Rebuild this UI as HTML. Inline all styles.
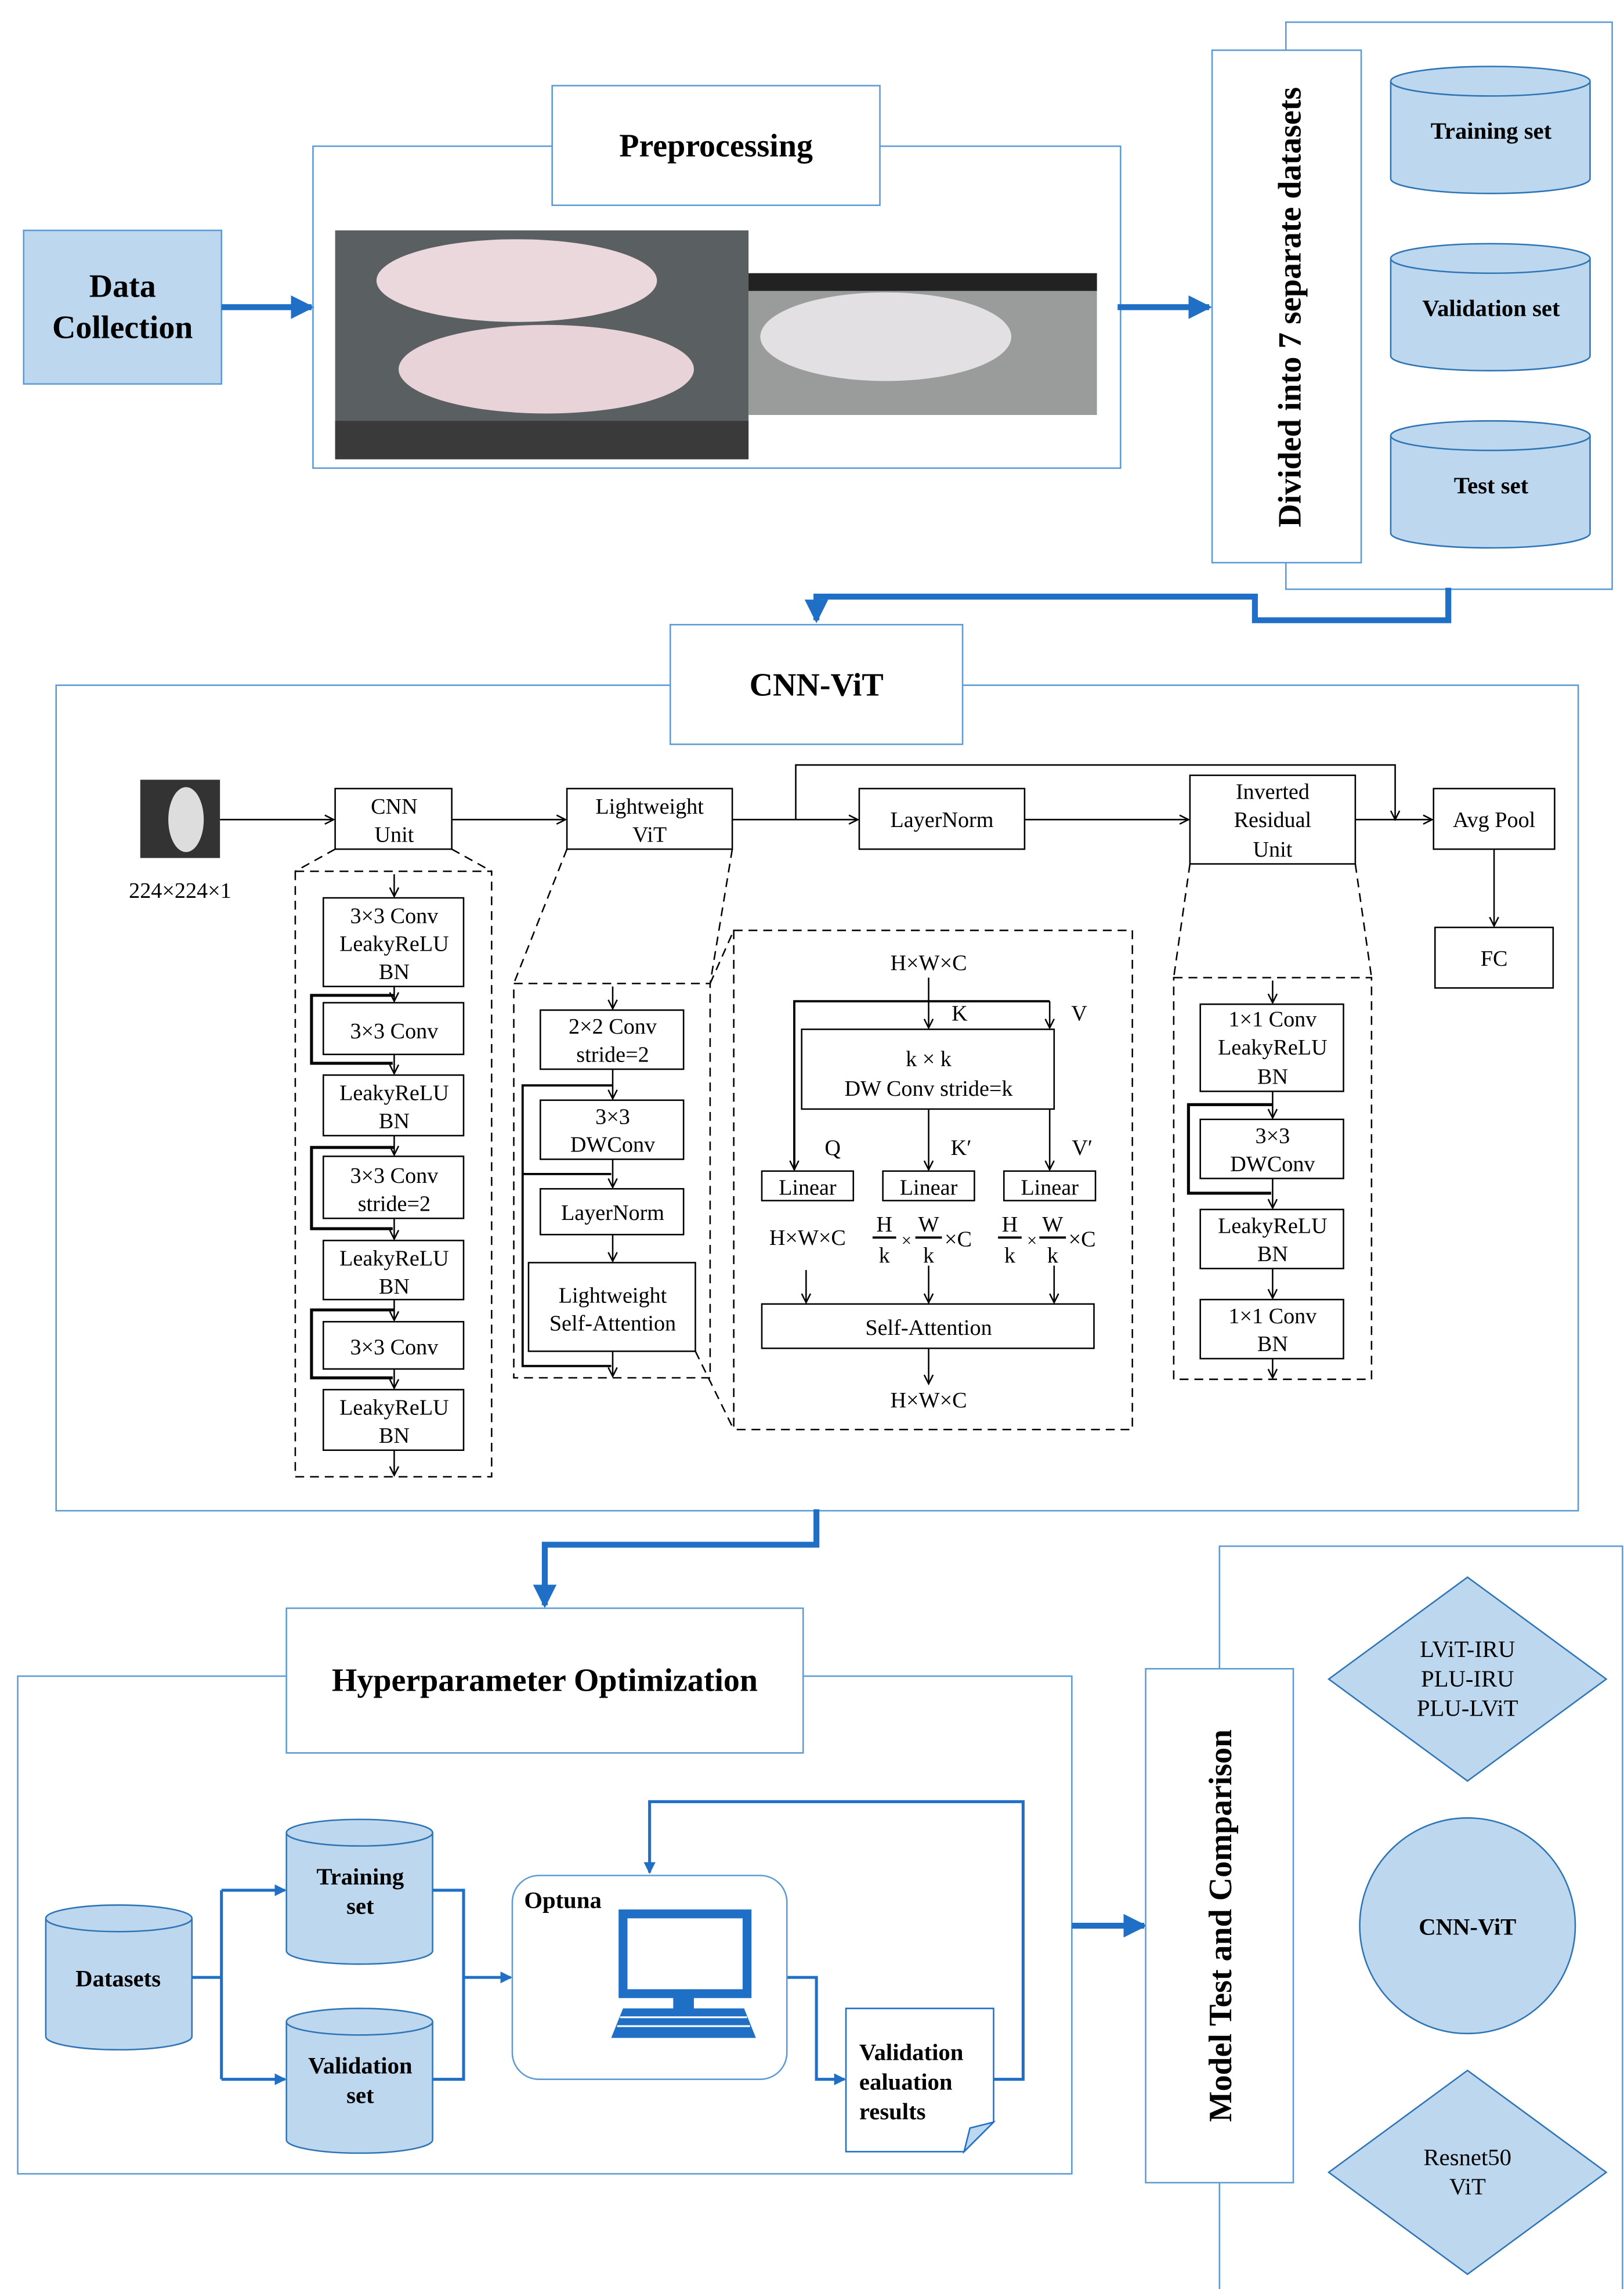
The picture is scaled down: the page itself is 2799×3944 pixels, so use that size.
<!DOCTYPE html>
<html><head><meta charset="utf-8"><style>
html,body{margin:0;padding:0;background:#fff;}
svg{display:block;}
text{font-family:"Liberation Serif",serif;}
</style></head><body>
<svg width="2799" height="3944" viewBox="0 0 1100 1550" xmlns="http://www.w3.org/2000/svg">
<defs>
<marker id="ab" markerWidth="8" markerHeight="8" refX="7" refY="4" orient="auto" markerUnits="userSpaceOnUse"><path d="M0,0 L8,4 L0,8 Z" fill="#1f6fc6"/></marker>
<marker id="ak" markerWidth="8" markerHeight="8" refX="7" refY="4" orient="auto" markerUnits="userSpaceOnUse"><path d="M1,1 L7,4 L1,7" fill="none" stroke="#000" stroke-width="1"/></marker>
<marker id="abb" markerWidth="16" markerHeight="16" refX="14" refY="8" orient="auto" markerUnits="userSpaceOnUse"><path d="M0,0 L16,8 L0,16 Z" fill="#1f6fc6"/></marker>
</defs>
<rect width="1100" height="1550" fill="#fff"/>

<!-- Data collection -->
<rect x="16" y="156" width="134" height="104" fill="#bdd7ee" stroke="#5b9bd5"/>
<text x="83" y="201" font-size="22" font-weight="bold" text-anchor="middle">Data</text>
<text x="83" y="229" font-size="22" font-weight="bold" text-anchor="middle">Collection</text>
<line x1="150" y1="208" x2="211" y2="208" stroke="#1f6fc6" stroke-width="4" marker-end="url(#abb)"/>

<!-- Preprocessing -->
<rect x="212" y="99" width="547" height="218" fill="none" stroke="#5b9bd5"/>
<rect x="374" y="58" width="222" height="81" fill="#fff" stroke="#5b9bd5"/>
<text x="485" y="106" font-size="22" font-weight="bold" text-anchor="middle">Preprocessing</text>
<rect x="227" y="156" width="280" height="155" fill="#5a5f62"/>
<ellipse cx="350" cy="190" rx="95" ry="28" fill="#ead8dc"/>
<ellipse cx="370" cy="250" rx="100" ry="30" fill="#e8d4d8"/>
<rect x="227" y="285" width="280" height="26" fill="#3a3a3a"/>
<rect x="507" y="185" width="236" height="96" fill="#9a9c9c"/>
<ellipse cx="600" cy="228" rx="85" ry="30" fill="#e2e0e2"/>
<rect x="507" y="185" width="236" height="12" fill="#222"/>

<line x1="757" y1="208" x2="819" y2="208" stroke="#1f6fc6" stroke-width="4" marker-end="url(#abb)"/>

<!-- datasets frame -->
<rect x="871" y="15" width="221" height="384" fill="none" stroke="#5b9bd5"/>
<rect x="821" y="34" width="101" height="347" fill="#fff" stroke="#5b9bd5"/>
<text transform="translate(881,208) rotate(-90)" font-size="22" font-weight="bold" text-anchor="middle">Divided into 7 separate datasets</text>
<g fill="#bdd7ee" stroke="#2e75b6">
<path d="M942,55 v66 a67.5,10 0 0 0 135,0 v-66"/><ellipse cx="1009.5" cy="55" rx="67.5" ry="10"/>
<path d="M942,175 v66 a67.5,10 0 0 0 135,0 v-66"/><ellipse cx="1009.5" cy="175" rx="67.5" ry="10"/>
<path d="M942,295 v66 a67.5,10 0 0 0 135,0 v-66"/><ellipse cx="1009.5" cy="295" rx="67.5" ry="10"/>
</g>
<g font-size="16" font-weight="bold" text-anchor="middle">
<text x="1010" y="94">Training set</text>
<text x="1010" y="214">Validation set</text>
<text x="1010" y="334">Test set</text>
</g>
<path d="M981,398 V420 H850 V404 H553 V420" fill="none" stroke="#1f6fc6" stroke-width="4" marker-end="url(#abb)"/>

<!-- CNN-ViT -->
<rect x="38" y="464" width="1031" height="559" fill="none" stroke="#5b9bd5"/>
<rect x="454" y="423" width="198" height="81" fill="#fff" stroke="#5b9bd5"/>
<text x="553" y="471" font-size="22" font-weight="bold" text-anchor="middle">CNN-ViT</text>

<g font-size="15" text-anchor="middle" stroke-width="1">
<rect x="95" y="528" width="54" height="53" fill="#333"/>
<ellipse cx="126" cy="555" rx="12" ry="22" fill="#ddd"/>
<text x="122" y="608">224×224×1</text>
<g stroke="#000" fill="none">
<line x1="149" y1="555" x2="226" y2="555" marker-end="url(#ak)"/>
<rect x="227" y="534" width="79" height="41"/>
<line x1="306" y1="555" x2="383" y2="555" marker-end="url(#ak)"/>
<rect x="384" y="534" width="112" height="41"/>
<line x1="496" y1="555" x2="581" y2="555" marker-end="url(#ak)"/>
<path d="M539,555 V518 H945 V555" marker-end="url(#ak)"/>
<rect x="582" y="534" width="112" height="41"/>
<line x1="694" y1="555" x2="805" y2="555" marker-end="url(#ak)"/>
<rect x="806" y="525" width="112" height="60"/>
<line x1="918" y1="555" x2="970" y2="555" marker-end="url(#ak)"/>
<rect x="971" y="534" width="82" height="41"/>
<line x1="1012" y1="575" x2="1012" y2="627" marker-end="url(#ak)"/>
<rect x="972" y="628" width="80" height="41"/>
</g>
<text x="267" y="551">CNN</text><text x="267" y="570">Unit</text>
<text x="440" y="551">Lightweight</text><text x="440" y="570">ViT</text>
<text x="638" y="560">LayerNorm</text>
<text x="862" y="541">Inverted</text><text x="862" y="560">Residual</text><text x="862" y="580">Unit</text>
<text x="1012" y="560">Avg Pool</text>
<text x="1012" y="654">FC</text>

<!-- CNN detail -->
<g stroke="#000" fill="none" stroke-dasharray="6,4">
<rect x="200" y="590" width="133" height="410"/>
<line x1="227" y1="575" x2="200" y2="590"/><line x1="306" y1="575" x2="333" y2="590"/>
<rect x="348" y="666" width="133" height="267"/>
<line x1="384" y1="575" x2="348" y2="666"/><line x1="496" y1="575" x2="481" y2="666"/>
<rect x="497" y="630" width="270" height="338"/>
<line x1="481" y1="666" x2="497" y2="630"/><line x1="471" y1="915" x2="497" y2="968"/>
<rect x="795" y="662" width="134" height="272"/>
<line x1="806" y1="585" x2="795" y2="662"/><line x1="918" y1="585" x2="929" y2="662"/>
</g>
<g stroke="#000" fill="none">
<rect x="219" y="608" width="95" height="60"/>
<rect x="219" y="679" width="95" height="35"/>
<rect x="219" y="728" width="95" height="41"/>
<rect x="219" y="783" width="95" height="42"/>
<rect x="219" y="840" width="95" height="40"/>
<rect x="219" y="895" width="95" height="32"/>
<rect x="219" y="941" width="95" height="41"/>
<line x1="267" y1="592" x2="267" y2="607" marker-end="url(#ak)"/>
<line x1="267" y1="668" x2="267" y2="678" marker-end="url(#ak)"/>
<line x1="267" y1="714" x2="267" y2="727" marker-end="url(#ak)"/>
<line x1="267" y1="769" x2="267" y2="782" marker-end="url(#ak)"/>
<line x1="267" y1="825" x2="267" y2="839" marker-end="url(#ak)"/>
<line x1="267" y1="880" x2="267" y2="894" marker-end="url(#ak)"/>
<line x1="267" y1="927" x2="267" y2="940" marker-end="url(#ak)"/>
<line x1="267" y1="982" x2="267" y2="999" marker-end="url(#ak)"/>
<g stroke-width="2"><path d="M267,674 H211 V720 H266"/><path d="M267,777 H211 V832 H266"/><path d="M267,887 H211 V933 H266"/></g>

<rect x="366" y="684" width="97" height="40"/>
<rect x="366" y="745" width="97" height="40"/>
<rect x="366" y="805" width="97" height="31"/>
<rect x="358" y="855" width="113" height="60"/>
<line x1="415" y1="668" x2="415" y2="683" marker-end="url(#ak)"/>
<line x1="415" y1="724" x2="415" y2="744" marker-end="url(#ak)"/>
<line x1="415" y1="785" x2="415" y2="804" marker-end="url(#ak)"/>
<line x1="415" y1="836" x2="415" y2="854" marker-end="url(#ak)"/>
<line x1="415" y1="915" x2="415" y2="932" marker-end="url(#ak)"/>
<g stroke-width="1.5"><path d="M415,735 H354 V925 H414"/><path d="M354,795 H414"/></g>

<line x1="629" y1="662" x2="629" y2="696" marker-end="url(#ak)"/>
<path d="M711,678 H538 V792" marker-end="url(#ak)" stroke-width="1.5"/>
<line x1="711" y1="678" x2="711" y2="696" marker-end="url(#ak)"/>
<rect x="543" y="697" width="171" height="54"/>
<line x1="629" y1="751" x2="629" y2="792" marker-end="url(#ak)"/>
<line x1="711" y1="751" x2="711" y2="792" marker-end="url(#ak)"/>
<rect x="516" y="793" width="62" height="20"/>
<rect x="598" y="793" width="62" height="20"/>
<rect x="680" y="793" width="62" height="20"/>
<line x1="546" y1="860" x2="546" y2="882" marker-end="url(#ak)"/>
<line x1="629" y1="857" x2="629" y2="882" marker-end="url(#ak)"/>
<line x1="714" y1="857" x2="714" y2="882" marker-end="url(#ak)"/>
<rect x="516" y="883" width="225" height="30"/>
<line x1="629" y1="913" x2="629" y2="937" marker-end="url(#ak)"/>
<g stroke-width="1.5"><line x1="591" y1="838" x2="607" y2="838"/><line x1="620" y1="838" x2="638" y2="838"/><line x1="676" y1="838" x2="692" y2="838"/><line x1="704" y1="838" x2="722" y2="838"/></g>

<rect x="813" y="680" width="97" height="59"/>
<rect x="813" y="758" width="97" height="40"/>
<rect x="813" y="819" width="97" height="40"/>
<rect x="813" y="880" width="97" height="40"/>
<line x1="862" y1="664" x2="862" y2="679" marker-end="url(#ak)"/>
<line x1="862" y1="739" x2="862" y2="757" marker-end="url(#ak)"/>
<line x1="862" y1="798" x2="862" y2="818" marker-end="url(#ak)"/>
<line x1="862" y1="859" x2="862" y2="879" marker-end="url(#ak)"/>
<line x1="862" y1="920" x2="862" y2="933" marker-end="url(#ak)"/>
<path d="M862,748 H805 V808 H861" stroke-width="2"/>
</g>
<g>
<text x="267" y="625">3×3 Conv</text><text x="267" y="644">LeakyReLU</text><text x="267" y="663">BN</text>
<text x="267" y="703">3×3 Conv</text>
<text x="267" y="745">LeakyReLU</text><text x="267" y="764">BN</text>
<text x="267" y="801">3×3 Conv</text><text x="267" y="820">stride=2</text>
<text x="267" y="857">LeakyReLU</text><text x="267" y="876">BN</text>
<text x="267" y="917">3×3 Conv</text>
<text x="267" y="958">LeakyReLU</text><text x="267" y="977">BN</text>

<text x="415" y="700">2×2  Conv</text><text x="415" y="719">stride=2</text>
<text x="415" y="761">3×3</text><text x="415" y="780">DWConv</text>
<text x="415" y="826">LayerNorm</text>
<text x="415" y="882">Lightweight</text><text x="415" y="901">Self-Attention</text>

<text x="629" y="657">H×W×C</text>
<text x="650" y="691">K</text><text x="731" y="691">V</text>
<text x="629" y="722">k × k</text><text x="629" y="742">DW Conv stride=k</text>
<text x="564" y="782">Q</text><text x="651" y="782">K′</text><text x="733" y="782">V′</text>
<text x="547" y="809">Linear</text><text x="629" y="809">Linear</text><text x="711" y="809">Linear</text>
<text x="547" y="843">H×W×C</text>
<text x="599" y="834">H</text><text x="599" y="855">k</text><text x="614" y="844" font-size="12">×</text><text x="629" y="834">W</text><text x="629" y="855">k</text><text x="649" y="844">×C</text>
<text x="684" y="834">H</text><text x="684" y="855">k</text><text x="699" y="844" font-size="12">×</text><text x="713" y="834">W</text><text x="713" y="855">k</text><text x="733" y="844">×C</text>
<text x="629" y="904">Self-Attention</text>
<text x="629" y="953">H×W×C</text>

<text x="862" y="695">1×1 Conv</text><text x="862" y="714">LeakyReLU</text><text x="862" y="734">BN</text>
<text x="862" y="774">3×3</text><text x="862" y="793">DWConv</text>
<text x="862" y="835">LeakyReLU</text><text x="862" y="854">BN</text>
<text x="862" y="896">1×1 Conv</text><text x="862" y="915">BN</text>
</g>
</g>

<path d="M553,1022 V1046 H369 V1087" fill="none" stroke="#1f6fc6" stroke-width="4" marker-end="url(#abb)"/>

<!-- Hyperparameter -->
<rect x="12" y="1135" width="714" height="337" fill="none" stroke="#5b9bd5"/>
<rect x="194" y="1089" width="350" height="98" fill="#fff" stroke="#5b9bd5"/>
<text x="369" y="1145" font-size="22" font-weight="bold" text-anchor="middle">Hyperparameter Optimization</text>
<g fill="#bdd7ee" stroke="#2e75b6">
<path d="M31,1299 v80 a49.5,9 0 0 0 99,0 v-80"/><ellipse cx="80.5" cy="1299" rx="49.5" ry="9"/>
<path d="M194,1241 v80 a49.5,9 0 0 0 99,0 v-80"/><ellipse cx="243.5" cy="1241" rx="49.5" ry="9"/>
<path d="M194,1369 v80 a49.5,9 0 0 0 99,0 v-80"/><ellipse cx="243.5" cy="1369" rx="49.5" ry="9"/>
</g>
<g font-size="16" font-weight="bold" text-anchor="middle">
<text x="80" y="1345">Datasets</text>
<text x="244" y="1276">Training</text><text x="244" y="1296">set</text>
<text x="244" y="1404">Validation</text><text x="244" y="1424">set</text>
</g>
<g fill="none" stroke="#1f6fc6" stroke-width="2">
<path d="M130,1339 H150"/><path d="M150,1280 V1408"/>
<line x1="150" y1="1280" x2="193" y2="1280" marker-end="url(#ab)"/>
<line x1="150" y1="1408" x2="193" y2="1408" marker-end="url(#ab)"/>
<path d="M293,1280 H314 V1408 H293"/>
<line x1="314" y1="1339" x2="346" y2="1339" marker-end="url(#ab)"/>
<path d="M533,1339 H553 V1408 H572" marker-end="url(#ab)"/>
<path d="M673,1408 H693 V1220 H440 V1268" marker-end="url(#ab)"/>
</g>
<rect x="347" y="1270" width="186" height="138" rx="18" fill="#fff" stroke="#5b9bd5"/>
<text x="355" y="1292" font-size="16" font-weight="bold">Optuna</text>
<rect x="422" y="1296" width="84" height="54" fill="#fff" stroke="#1f6fc6" stroke-width="6"/>
<rect x="456" y="1352" width="14" height="8" fill="#1f6fc6"/>
<path d="M422,1360 H504 L512,1380 H414 Z" fill="#1f6fc6"/>
<g stroke="#fff" stroke-width="1.2"><line x1="420" y1="1366" x2="506" y2="1366"/><line x1="418" y1="1372" x2="508" y2="1372"/></g>
<path d="M573,1360 H673 V1437 L653,1457 H573 Z" fill="#fff" stroke="#1f6fc6"/>
<path d="M653,1457 L657,1441 L673,1437 Z" fill="#bdd7ee" stroke="#1f6fc6"/>
<g font-size="16" font-weight="bold"><text x="582" y="1395">Validation</text><text x="582" y="1415">ealuation</text><text x="582" y="1435">results</text></g>

<line x1="726" y1="1304" x2="775" y2="1304" stroke="#1f6fc6" stroke-width="4" marker-end="url(#abb)"/>

<!-- Model test -->
<rect x="826" y="1047" width="273" height="513" fill="none" stroke="#5b9bd5"/>
<rect x="776" y="1130" width="100" height="348" fill="#fff" stroke="#5b9bd5"/>
<text transform="translate(834,1304) rotate(-90)" font-size="22" font-weight="bold" text-anchor="middle">Model Test and Comparison</text>
<g fill="#bdd7ee" stroke="#2e75b6">
<path d="M994,1068 L1088,1137 L994,1206 L900,1137 Z"/>
<circle cx="994" cy="1304" r="73"/>
<path d="M994,1402 L1088,1471 L994,1540 L900,1471 Z"/>
</g>
<g font-size="16" text-anchor="middle">
<text x="994" y="1122">LViT-IRU</text><text x="994" y="1142">PLU-IRU</text><text x="994" y="1162">PLU-LViT</text>
<text x="994" y="1310" font-weight="bold">CNN-ViT</text>
<text x="994" y="1466">Resnet50</text><text x="994" y="1486">ViT</text>
</g>
</svg>
</body></html>
